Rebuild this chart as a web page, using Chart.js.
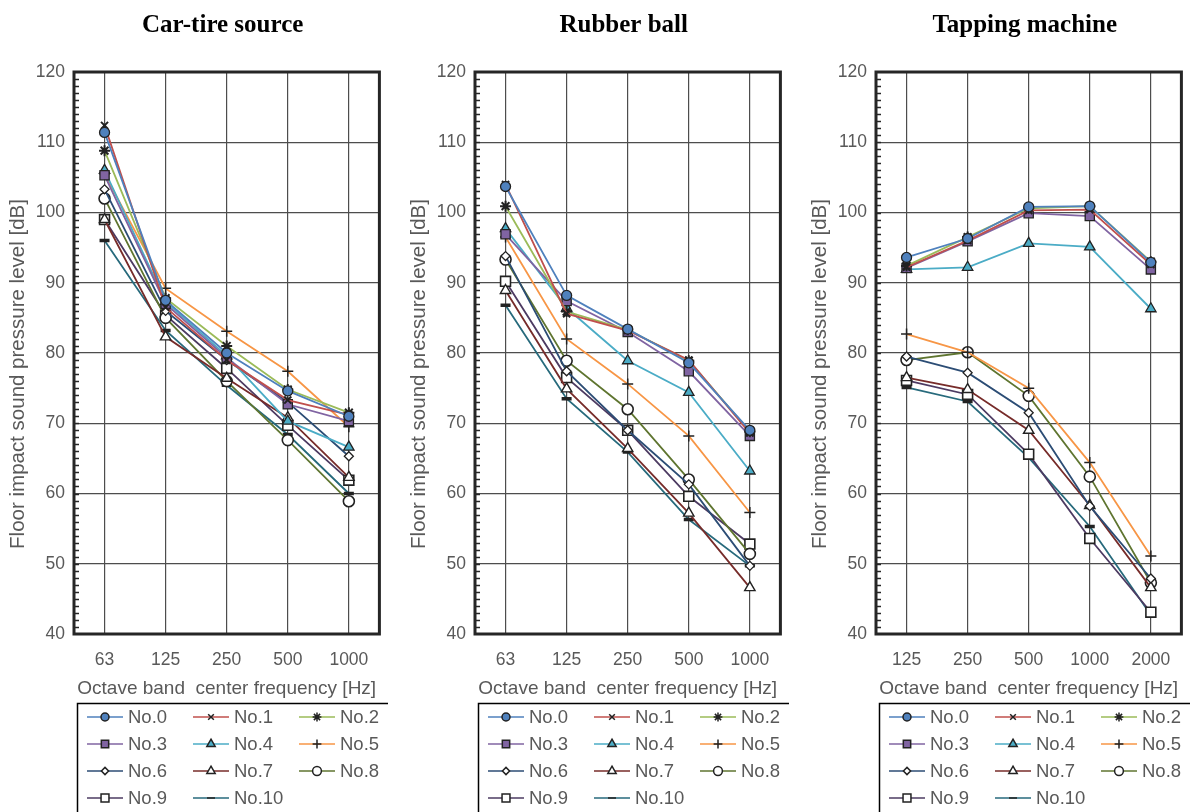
<!DOCTYPE html>
<html>
<head>
<meta charset="utf-8">
<script src="https://cdn.jsdelivr.net/npm/chart.js@4.4.1/dist/chart.umd.min.js"></script>
<style>
  html, body { margin: 0; padding: 0; background: #fff; }
  #wrap { position: relative; width: 1190px; height: 812px; overflow: hidden; }
  canvas { position: absolute; top: 0; }
</style>
</head>
<body>
<div id="wrap">
  <canvas id="c1" width="388" height="812" style="left:0px"></canvas>
  <canvas id="c2" width="388" height="812" style="left:401px"></canvas>
  <canvas id="c3" width="388" height="812" style="left:802px"></canvas>
</div>
<script>
// ---- data ----
const seriesNames = ["No.0", "No.1", "No.2", "No.3", "No.4", "No.5", "No.6", "No.7", "No.8", "No.9", "No.10"];
const lowBands = ["63", "125", "250", "500", "1000"];
const highBands = ["125", "250", "500", "1000", "2000"];

// one row per series (No.0 .. No.10)
const carTire = [
  [111.4, 87.5, 80.0, 74.6, 71.0],
  [112.4, 86.5, 79.0, 73.3, 71.2],
  [108.8, 87.8, 81.0, 74.8, 71.5],
  [105.3, 87.0, 79.3, 72.7, 70.3],
  [106.0, 87.3, 79.6, 70.3, 66.6],
  [105.5, 89.2, 83.1, 77.4, 69.5],
  [103.3, 86.0, 79.0, 73.0, 65.3],
  [99.0, 82.3, 76.4, 70.8, 62.3],
  [102.0, 85.0, 76.0, 67.6, 58.9],
  [99.0, 85.4, 77.8, 69.7, 61.9],
  [96.0, 83.2, 75.4, 68.4, 60.0]
];
const rubberBall = [
  [103.7, 88.2, 83.4, 78.6, 69.0],
  [104.0, 85.6, 83.2, 79.0, 68.6],
  [100.9, 85.9, 83.3, 78.9, 68.8],
  [96.9, 87.4, 83.0, 77.4, 68.2],
  [97.7, 86.4, 78.9, 74.4, 63.2],
  [96.5, 82.0, 75.6, 68.2, 57.3],
  [93.8, 77.4, 69.0, 61.3, 49.7],
  [88.9, 74.9, 66.4, 57.2, 46.6],
  [93.3, 78.9, 72.0, 62.0, 51.4],
  [90.2, 76.5, 69.0, 59.6, 52.8],
  [86.8, 73.5, 65.9, 56.3, 49.7]
];
const tappingMachine = [
  [93.6, 96.3, 100.8, 100.9, 92.9],
  [92.2, 96.0, 100.3, 100.4, 92.6],
  [92.4, 96.5, 100.6, 100.9, 93.0],
  [92.1, 95.9, 99.9, 99.5, 91.9],
  [91.9, 92.2, 95.6, 95.1, 86.3],
  [82.7, 80.1, 75.0, 64.4, 51.1],
  [79.5, 77.2, 71.5, 58.2, 47.9],
  [76.5, 74.8, 69.0, 58.3, 46.6],
  [79.0, 80.1, 73.9, 62.4, 47.3],
  [76.1, 74.1, 65.6, 53.6, 43.1],
  [75.1, 73.1, 65.1, 55.3, 42.7]
];

// ---- styles ----
const seriesStyle = [
  { line: "#4F81BD", marker: "circle", fill: "#4F81BD", r: 5, bw: 1.3 },
  { line: "#C0504D", marker: "crossRot", fill: "#222", r: 5, bw: 2 },
  { line: "#9BBB59", marker: "star", fill: "#222", r: 5.5, bw: 2 },
  { line: "#8064A2", marker: "rect", fill: "#8064A2", r: 6.5, bw: 1.3 },
  { line: "#4BACC6", marker: "triangle", fill: "#4BACC6", r: 6, bw: 1.3 },
  { line: "#F79646", marker: "cross", fill: "#222", r: 5.5, bw: 1.5 },
  { line: "#2C4D75", marker: "rectRot", fill: "#fff", r: 4.5, bw: 1.3 },
  { line: "#772C2A", marker: "triangle", fill: "#fff", r: 6, bw: 1.4 },
  { line: "#5F7530", marker: "circle", fill: "#fff", r: 5.5, bw: 1.6 },
  { line: "#4D3B62", marker: "rect", fill: "#fff", r: 7, bw: 1.6 },
  { line: "#276A7C", marker: "line", fill: "#222", r: 5, bw: 3.5 }
];

Chart.defaults.font.family = "'Liberation Sans', Arial, sans-serif";

const panelDecor = {
  id: "panelDecor",
  beforeDatasetsDraw(chart) {
    const { ctx, chartArea: a, scales: { y } } = chart;
    ctx.save();
    ctx.strokeStyle = "#262626";
    ctx.lineWidth = 1.5;
    for (let v = 41; v < 120; v++) {
      const py = Math.round(y.getPixelForValue(v)) + 0.5;
      ctx.beginPath();
      ctx.moveTo(a.left, py);
      ctx.lineTo(a.left + 5, py);
      ctx.stroke();
    }
    ctx.lineWidth = 3;
    ctx.strokeRect(a.left, a.top, a.right - a.left, a.bottom - a.top);
    ctx.restore();
  },
  afterDraw(chart, args, opts) {
    const { ctx, chartArea: a } = chart;
    ctx.save();
    // panel title
    ctx.fillStyle = "#000";
    ctx.font = "bold 25px 'Liberation Serif', 'Times New Roman', serif";
    ctx.textAlign = "center";
    ctx.textBaseline = "middle";
    ctx.fillText(opts.title, (a.left + a.right) / 2 - 4, 26);

    // y axis title
    ctx.save();
    ctx.translate(18, 374);
    ctx.rotate(-Math.PI / 2);
    ctx.fillStyle = "#595959";
    ctx.font = "20.5px 'Liberation Sans', Arial, sans-serif";
    ctx.fillText(opts.yTitle, 0, 0);
    ctx.restore();

    // legend box
    const lx = a.left + 3, ly = 703;
    ctx.strokeStyle = "#000";
    ctx.lineWidth = 1.5;
    ctx.strokeRect(lx + 0.5, ly + 0.5, 316, 140);
    chart.data.datasets.forEach((ds, i) => {
      const col = i % 3, row = Math.floor(i / 3);
      const x0 = lx + 10 + col * 106, yc = ly + 14 + row * 27;
      ctx.strokeStyle = ds.borderColor;
      ctx.lineWidth = 1.5;
      ctx.beginPath();
      ctx.moveTo(x0, yc);
      ctx.lineTo(x0 + 36, yc);
      ctx.stroke();
      ctx.fillStyle = ds.pointBackgroundColor;
      ctx.strokeStyle = ds.pointBorderColor;
      Chart.helpers.drawPoint(ctx, {
        pointStyle: ds.pointStyle,
        radius: ds.pointRadius * 0.8,
        borderWidth: ds.pointBorderWidth,
        rotation: 0
      }, x0 + 18, yc);
      ctx.fillStyle = "#595959";
      ctx.font = "18.5px 'Liberation Sans', Arial, sans-serif";
      ctx.textAlign = "left";
      ctx.textBaseline = "middle";
      ctx.fillText(ds.label, x0 + 41, yc + 1);
    });
    ctx.restore();
  }
};

function makePanel(id, title, bands, rows) {
  const datasets = rows.map((vals, i) => {
    const s = seriesStyle[i];
    return {
      label: seriesNames[i],
      data: vals,
      borderColor: s.line,
      borderWidth: 1.8,
      pointStyle: s.marker,
      pointRadius: s.r,
      pointBackgroundColor: s.fill,
      pointBorderColor: "#222",
      pointBorderWidth: s.bw,
      tension: 0
    };
  });

  new Chart(document.getElementById(id), {
    type: "line",
    data: { labels: bands, datasets: datasets },
    options: {
      responsive: false,
      animation: false,
      layout: { padding: { top: 72, right: 6, bottom: 108, left: 0 } },
      plugins: {
        legend: { display: false },
        tooltip: { enabled: false },
        panelDecor: { title: title, yTitle: "Floor impact sound pressure level [dB]" }
      },
      scales: {
        x: {
          offset: true,
          ticks: { color: "#595959", font: { size: 17.5 }, padding: 16, maxRotation: 0 },
          grid: { offset: false, color: "#4d4d4d", lineWidth: 1.2, drawTicks: false },
          border: { display: false },
          title: {
            display: true,
            text: "Octave band  center frequency [Hz]",
            color: "#595959",
            font: { size: 19 },
            padding: { top: 0, bottom: 4 }
          },
          afterFit(s) { s.height = 70; }
        },
        y: {
          min: 40,
          max: 120,
          ticks: { stepSize: 10, color: "#595959", font: { size: 17.5 }, padding: 9 },
          grid: { color: "#4d4d4d", lineWidth: 1.2, drawTicks: false },
          border: { display: false },
          afterFit(s) { s.width = 74; }
        }
      }
    },
    plugins: [panelDecor]
  });
}

makePanel("c1", "Car-tire source", lowBands, carTire);
makePanel("c2", "Rubber ball", lowBands, rubberBall);
makePanel("c3", "Tapping machine", highBands, tappingMachine);
</script>
</body>
</html>
